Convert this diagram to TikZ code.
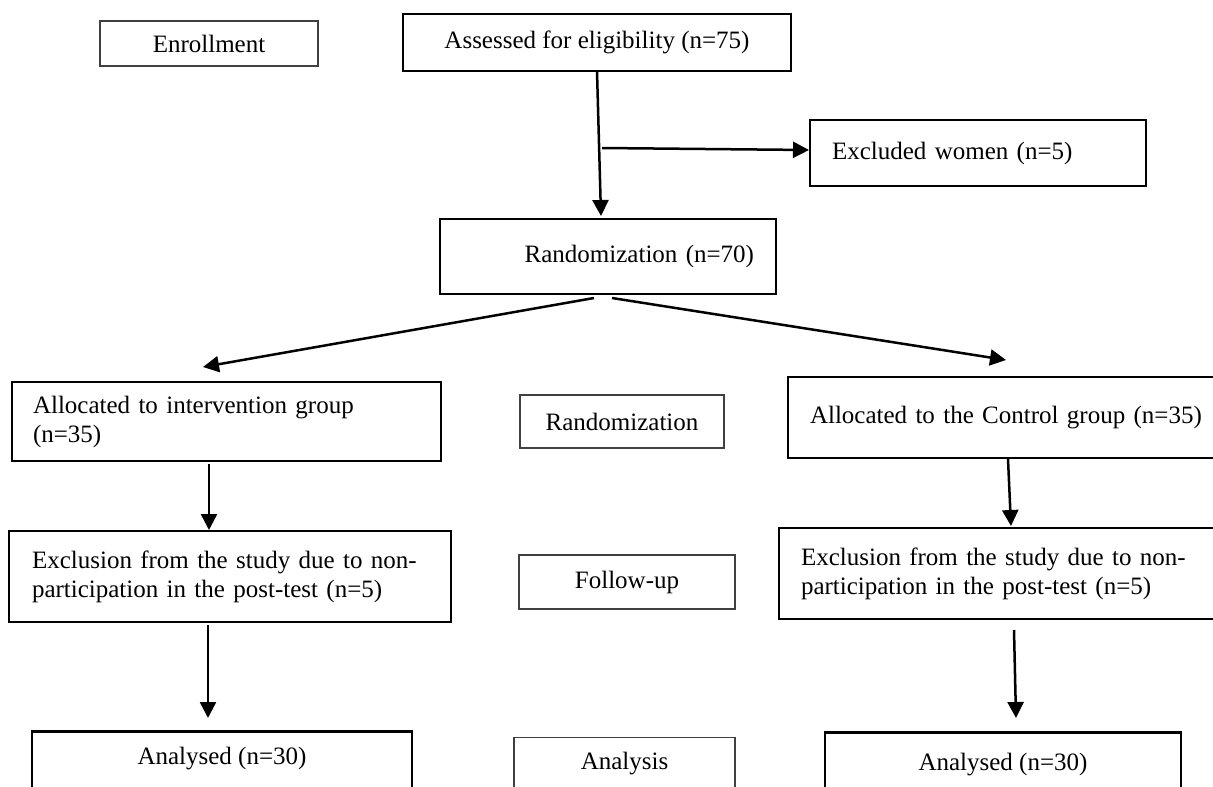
\documentclass[tikz,border=0pt]{standalone}
\usepackage{fontspec}
\setmainfont{Liberation Serif}
\usetikzlibrary{arrows.meta}
\begin{document}
\begin{tikzpicture}[x=1pt,y=-1pt,line width=2.5pt,every node/.style={font=\fontsize{25}{29}\selectfont,inner sep=0pt},
  box/.style={draw,line width=2.6pt},
  phase/.style={draw=black!75,line width=1.3pt},
  arr/.style={-{Triangle[length=16pt,width=16pt]}}]
\useasboundingbox (0,0) rectangle (1213,787);
\node[phase,minimum width=218pt,minimum height=45pt] (enroll) at (209,43.5) {Enrollment};
\node[box,minimum width=388pt,minimum height=57pt] (assess) at (597,42.5) {Assessed for eligibility (n=75)};
\node[box,text width=292pt,inner xsep=22pt,align=left,minimum height=66pt] (excl) at (978,153) {Excluded women (n=5)};
\node[box,text width=292pt,inner xsep=22pt,align=right,minimum height=75pt] (rand) at (608,256.5) {Randomization (n=70)};
\node[phase,minimum width=204pt,minimum height=53pt] (randlbl) at (622,421.5) {Randomization};
\node[box,text width=387pt,inner xsep=21pt,align=left,minimum height=79pt] (allocint) at (226.5,421.5) {Allocated to intervention group\\(n=35)};
\node[box,text width=393pt,inner xsep=22pt,align=left,minimum height=81pt] (allocctl) at (1006.5,417.5) {Allocated to the Control group (n=35)};
\node[box,text width=396pt,inner xsep=23pt,align=left,minimum height=91pt] (exclint) at (230,576.5) {Exclusion from the study due to non-\\participation in the post-test (n=5)};
\node[phase,minimum width=216pt,minimum height=54pt] (followlbl) at (627,582) {Follow-up};
\node[box,text width=402pt,inner xsep=22pt,align=left,minimum height=91pt] (exclctl) at (1002,573.5) {Exclusion from the study due to non-\\participation in the post-test (n=5)};
\node[box,anchor=north,minimum width=380pt,text height=33pt,text depth=60pt] (analint) at (222,730) {Analysed (n=30)};
\node[phase,anchor=north,minimum width=221pt,text height=32pt,text depth=60pt] (analysislbl) at (624.5,737) {Analysis};
\node[box,anchor=north,minimum width=356pt,text height=38pt,text depth=60pt] (analctl) at (1003,731) {Analysed (n=30)};
\coordinate (A) at (597,71);
\coordinate (B) at (601,216);
\coordinate (C) at (602,148);
\coordinate (D) at (809,150);
\coordinate (E) at (594,298);
\coordinate (F) at (203,367);
\coordinate (G) at (612,298);
\coordinate (H) at (1006,360);
\coordinate (K) at (209,464);
\coordinate (L) at (209,530);
\coordinate (M) at (1008,459);
\coordinate (N) at (1011,526);
\coordinate (P) at (208,625);
\coordinate (Q) at (208,718);
\coordinate (R) at (1014,630);
\coordinate (S) at (1016,718);
\draw[arr] (A) -- (B);
\draw[arr] (C) -- (D);
\draw[arr] (E) -- (F);
\draw[arr] (G) -- (H);
\draw[arr] (K) -- (L);
\draw[arr] (M) -- (N);
\draw[arr] (P) -- (Q);
\draw[arr] (R) -- (S);
\end{tikzpicture}
\end{document}
